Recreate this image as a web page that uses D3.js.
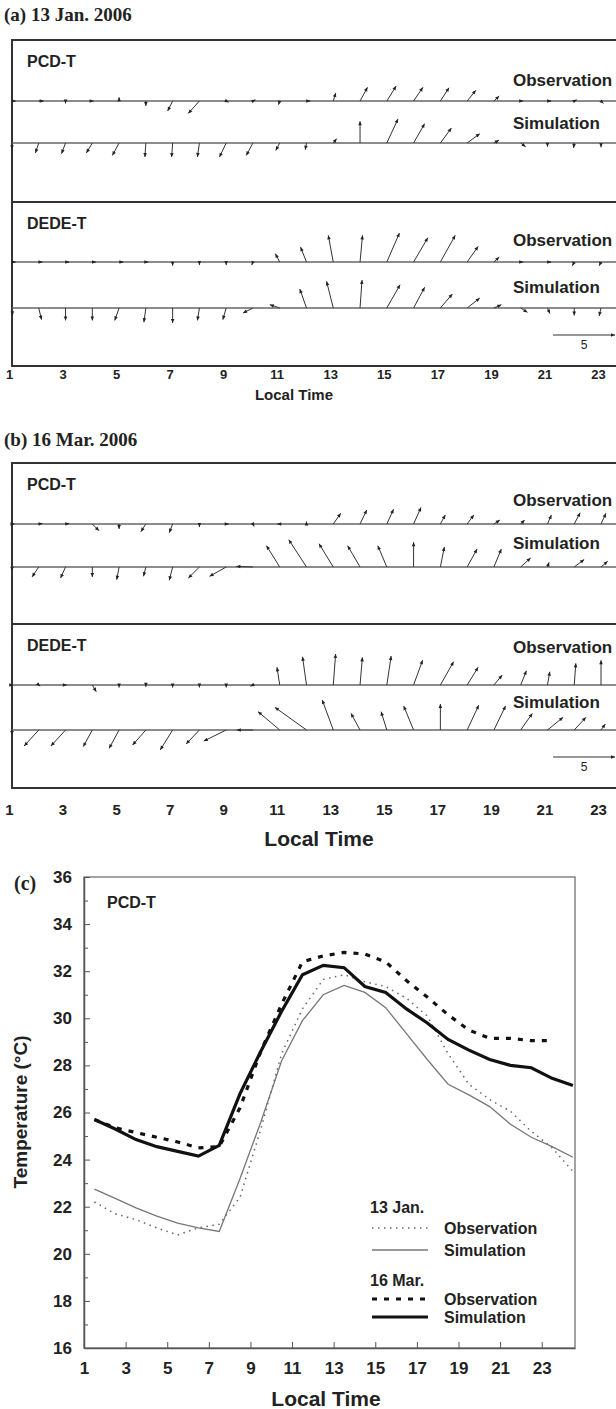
<!DOCTYPE html>
<html>
<meta charset="utf-8">
<head>
  <script src="https://d3js.org/d3.v7.min.js"></script>
  <style>
    body { margin: 0; background: #fff; }
    svg text { font-family: "Liberation Sans", Arial, sans-serif; font-weight: bold; fill: #222; }
    svg text.serif { font-family: "Liberation Serif", "Times New Roman", serif; }
  </style>
</head>
<body>
<svg id="fig" width="616" height="1409"></svg>
<script>
// hours of the wind vectors (the 24th one falls outside the frame)
var hours = [1,2,3,4,5,6,7,8,9,10,11,12,13,14,15,16,17,18,19,20,21,22,23];
var tickHours = [1,3,5,7,9,11,13,15,17,19,21,23];

// 13 Jan. 2006 wind components (m/s)
var janPcdObsU = [0.3,0.4,0,0.1,0,0,-0.4,-0.9,0.2,0.2,-0.1,0.3,0.2,0.6,0.75,0.75,0.7,0.7,0.43,0.2,0.3,0.2,0.2];
var janPcdObsV = [0,0,-0.2,0,0.3,-0.4,-0.8,-1.0,-0.1,0.1,-0.3,0,0.65,1.1,1.2,1.1,1.07,0.86,0.4,0,0,0.1,-0.2];
var janPcdSimU = [0,-0.27,-0.32,-0.48,-0.54,-0.08,-0.08,-0.16,-0.54,-0.54,-0.32,-0.1,0.27,0,0.9,0.89,0.89,1.02,0.4,0.4,0,-0.05,0];
var janPcdSimV = [-0.5,-0.8,-0.86,-0.8,-1.0,-1.13,-1.13,-1.13,-1.13,-1.0,-0.6,-0.54,0.35,1.75,1.94,1.56,1.21,0.75,0.22,-0.3,-0.3,-0.4,-0.35];
var janDedeObsU = [0.3,0.3,0.3,0.3,0.35,0.2,0,0,0,-0.1,-0.35,-0.48,-0.4,0.2,1.02,1.15,1.2,0.89,0.43,0.2,0.3,-0.15,-0.15];
var janDedeObsV = [0,0,0,0,0,0,-0.3,-0.25,-0.25,-0.25,0.67,1.2,2.15,2.15,2.34,1.96,2.15,1.26,0.4,0,0,-0.3,-0.3];
var janDedeSimU = [0.05,0.22,0,0,-0.35,-0.16,0,-0.16,-0.27,-0.8,-0.8,-0.54,-0.54,0.16,1.07,0.89,0.97,1.02,0.6,0.54,0.2,0,-0.15];
var janDedeSimV = [-0.6,-0.94,-1.0,-1.0,-1.0,-1.15,-1.2,-1.0,-0.94,-0.4,0.27,1.53,2.15,2.26,1.88,1.67,1.13,0.8,0.27,-0.35,-0.45,-0.6,-0.65];

// 16 Mar. 2006 wind components (m/s)
var marPcdObsU = [0.2,0.3,0.3,0.54,0,-0.4,-0.27,0,0.2,0.1,-0.2,0,0.6,0.54,0.54,0.6,0.4,0.54,0.48,0.32,0.32,0.48,0.4];
var marPcdObsV = [0,0.05,0.05,-0.54,-0.4,-0.62,-0.7,-0.25,0,-0.2,0,0.2,0.86,1.13,1.18,1.34,0.73,0.73,0.32,0.32,0.73,0.91,0.86];
var marPcdSimU = [0,-0.54,-0.4,0,-0.19,-0.19,-0.27,-0.89,-1.34,-1.34,-1.07,-1.43,-1.15,-1.0,-0.73,0,0.32,0.8,0.6,0.8,0.13,0.8,0.54];
var marPcdSimV = [-0.3,-0.8,-0.89,-0.8,-1.02,-0.75,-1.07,-0.89,-0.75,0.05,1.72,2.2,1.88,1.72,1.72,2.0,1.61,1.45,1.45,0.73,0.38,0.6,0.46];
var marDedeObsU = [0.1,0.1,0.1,0.32,0,0,0,0,0,-0.2,-0.22,-0.32,0.19,0.19,0.35,0.73,1.07,0.89,0.67,0.46,0.19,0.13,0];
var marDedeObsV = [0,-0.1,0,-0.54,-0.2,-0.15,-0.2,-0.2,-0.2,-0.1,1.43,2.28,2.5,2.23,2.34,2.0,1.88,1.43,0.8,1.15,1.07,1.75,2.0];
var marDedeSimU = [0,-1.18,-1.18,-0.73,-0.8,-1.07,-1.0,-1.07,-1.8,-1.3,-1.75,-2.55,-0.89,-0.73,-0.46,-0.8,0,0.94,0.94,0.94,1.26,0.94,0.35];
var marDedeSimV = [-0.4,-1.29,-1.29,-1.34,-1.48,-1.21,-1.61,-1.13,-0.89,0,1.48,1.83,2.42,1.34,1.48,1.94,2.1,2.0,1.94,1.34,1.02,1.02,0.48];

// PCD-T temperature (deg C) at half hours
var hoursC = [1.5,2.5,3.5,4.5,5.5,6.5,7.5,8.5,9.5,10.5,11.5,12.5,13.5,14.5,15.5,16.5,17.5,18.5,19.5,20.5,21.5,22.5,23.5,24.5];
var janObsT = [22.2,21.7,21.45,21.1,20.8,21.1,21.25,22.4,25.3,28.5,30.4,31.65,31.85,31.55,31.35,30.85,30.1,28.5,27.2,26.55,26.05,25.2,24.5,23.5];
var janSimT = [22.75,22.35,21.95,21.6,21.3,21.1,20.95,23.2,25.6,28.2,29.9,31.0,31.4,31.1,30.45,29.35,28.25,27.2,26.75,26.25,25.5,24.95,24.55,24.1];
var marObsT = [25.7,25.35,25.15,24.95,24.75,24.5,24.55,26.2,28.6,30.6,32.4,32.65,32.8,32.73,32.4,31.6,30.9,30.15,29.5,29.15,29.15,29.05,29.05,null];
var marSimT = [25.7,25.3,24.85,24.55,24.35,24.15,24.6,26.8,28.6,30.3,31.85,32.25,32.15,31.35,31.1,30.4,29.8,29.1,28.65,28.25,28.0,27.9,27.45,27.15];
var yTicksC = [16,18,20,22,24,26,28,30,32,34,36];

var svg = d3.select("#fig");

// shared hour scale for the vector panels, and speed -> pixels
var xA = d3.scaleLinear().domain([1, 23]).range([12, 601]);
var speed = d3.scaleLinear().domain([0, 5]).range([0, 62]);

function arrow(g, x0, y0, u, v) {
  var x1 = x0 + speed(u), y1 = y0 - speed(v);
  var dx = x1 - x0, dy = y1 - y0, len = Math.sqrt(dx*dx + dy*dy);
  if (len < 0.01) { dx = 1; dy = 0; len = 1; x1 = x0 + 1; }
  var ux = dx/len, uy = dy/len, hl = 4, hw = 1.8;
  g.append("line").attr("x1", x0).attr("y1", y0).attr("x2", x1).attr("y2", y1)
    .attr("stroke", "#333").attr("stroke-width", 1);
  var bx = x1 - ux*hl, by = y1 - uy*hl;
  g.append("polygon")
    .attr("points", [[x1, y1], [bx - uy*hw, by + ux*hw], [bx + uy*hw, by - ux*hw]].map(p => p.join(",")).join(" "))
    .attr("fill", "#222");
}

function vectorRow(g, y0, u, v, label, labelY) {
  g.append("line").attr("x1", 12).attr("x2", 640).attr("y1", y0).attr("y2", y0)
    .attr("stroke", "#666").attr("stroke-width", 1.5);
  hours.forEach(function(h, i) { arrow(g, xA(h), y0, u[i], v[i]); });
  g.append("text").attr("x", 513).attr("y", labelY).style("font-size", "17px").text(label);
}

function vectorPanel(cfg) {
  var g = svg.append("g");
  g.append("text").attr("class", "serif").attr("x", 4).attr("y", cfg.titleY)
    .style("font-size", "19px").text(cfg.title);
  // frame and divider
  g.append("rect").attr("x", 12).attr("y", cfg.top).attr("width", 640).attr("height", cfg.bottom - cfg.top)
    .attr("fill", "none").attr("stroke", "#333").attr("stroke-width", 2);
  g.append("line").attr("x1", 12).attr("x2", 640).attr("y1", cfg.divider).attr("y2", cfg.divider)
    .attr("stroke", "#333").attr("stroke-width", 2);
  g.append("text").attr("x", 27).attr("y", cfg.pcdY).style("font-size", "16px").text("PCD-T");
  g.append("text").attr("x", 27).attr("y", cfg.dedeY).style("font-size", "16px").text("DEDE-T");
  cfg.rows.forEach(function(r) { vectorRow(g, r.y, r.u, r.v, r.label, r.labelY); });
  // 5 m/s reference vector
  arrow(g, 553, cfg.refY, 5, 0);
  g.append("text").attr("x", 553 + speed(2.5)).attr("y", cfg.refY + 14).attr("text-anchor", "middle")
    .style("font-weight", "normal").style("font-size", "12px").text("5");
  // hour labels
  var axis = d3.axisBottom(xA).tickValues(tickHours).tickSize(0).tickPadding(0);
  var ax = g.append("g").attr("transform", "translate(-3," + cfg.tickY + ")").call(axis);
  ax.select(".domain").remove();
  ax.selectAll("text").style("font-size", cfg.tickSize + "px");
  g.append("text").attr("x", cfg.labelX).attr("y", cfg.labelY).attr("text-anchor", "middle")
    .style("font-size", cfg.labelSize + "px").text("Local Time");
}

vectorPanel({
  title: "(a) 13 Jan. 2006", titleY: 21, top: 40, bottom: 366, divider: 202,
  pcdY: 67, dedeY: 229, refY: 335, tickY: 370, tickSize: 13, labelX: 294, labelY: 400, labelSize: 15,
  rows: [
    {y: 101, u: janPcdObsU, v: janPcdObsV, label: "Observation", labelY: 86},
    {y: 143, u: janPcdSimU, v: janPcdSimV, label: "Simulation", labelY: 129},
    {y: 262, u: janDedeObsU, v: janDedeObsV, label: "Observation", labelY: 246},
    {y: 308, u: janDedeSimU, v: janDedeSimV, label: "Simulation", labelY: 293}
  ]
});

vectorPanel({
  title: "(b) 16 Mar. 2006", titleY: 446, top: 463, bottom: 788, divider: 624,
  pcdY: 490, dedeY: 651, refY: 757, tickY: 804, tickSize: 15, labelX: 319, labelY: 846, labelSize: 21,
  rows: [
    {y: 524, u: marPcdObsU, v: marPcdObsV, label: "Observation", labelY: 506},
    {y: 567, u: marPcdSimU, v: marPcdSimV, label: "Simulation", labelY: 549},
    {y: 685, u: marDedeObsU, v: marDedeObsV, label: "Observation", labelY: 653},
    {y: 730, u: marDedeSimU, v: marDedeSimV, label: "Simulation", labelY: 708}
  ]
});

// (c) temperature panel
var xC = d3.scaleLinear().domain([1, 24.6]).range([84, 575]);
var yC = d3.scaleLinear().domain([16, 36]).range([1348, 877]);
var gc = svg.append("g");

gc.append("text").attr("class", "serif").attr("x", 14).attr("y", 890).style("font-size", "20px").text("(c)");
gc.append("rect").attr("x", 84).attr("y", 877).attr("width", 491).attr("height", 471)
  .attr("fill", "none").attr("stroke", "#666").attr("stroke-width", 1.2);

var yAxis = d3.axisLeft(yC).tickValues(yTicksC).tickSizeInner(-6).tickSizeOuter(0).tickPadding(12);
var ya = gc.append("g").attr("transform", "translate(84,0)").call(yAxis);
var yMinor = gc.append("g").attr("transform", "translate(84,0)")
  .call(d3.axisLeft(yC).tickValues(d3.range(17, 36, 2)).tickSize(-4).tickFormat(""));
yMinor.select(".domain").remove();

var xAxisC = d3.axisBottom(xC).tickValues(tickHours).tickSizeInner(-6).tickSizeOuter(0).tickPadding(14);
var xa = gc.append("g").attr("transform", "translate(0,1348)").call(xAxisC);

[ya, xa].forEach(function(a) {
  a.select(".domain").attr("stroke", "#555").attr("stroke-width", 1.5);
  a.selectAll("line").attr("stroke", "#555");
  a.selectAll("text").style("font-size", "17px").attr("fill", "#222")
    .style("font-family", "'Liberation Sans Narrow', 'Arial Narrow', 'Liberation Sans', sans-serif");
});
yMinor.selectAll("line").attr("stroke", "#555");

gc.append("text").attr("x", 107).attr("y", 908).style("font-size", "16px").text("PCD-T");
gc.append("text").attr("transform", "translate(27,1112) rotate(-90)").attr("text-anchor", "middle")
  .style("font-size", "19px").text("Temperature (\u00B0C)");
gc.append("text").attr("x", 326).attr("y", 1406).attr("text-anchor", "middle")
  .style("font-size", "21px").text("Local Time");

var series = [
  {t: janObsT, stroke: "#666", width: 1.5, dash: "1.5,4.5"},
  {t: janSimT, stroke: "#777", width: 1.3, dash: null},
  {t: marObsT, stroke: "#111", width: 3.2, dash: "5,7"},
  {t: marSimT, stroke: "#111", width: 3.2, dash: null}
];

var line = d3.line().defined(function(d) { return d[1] != null; })
  .x(function(d) { return xC(d[0]); }).y(function(d) { return yC(d[1]); });

series.forEach(function(s) {
  gc.append("path").datum(hoursC.map(function(h, i) { return [h, s.t[i]]; }))
    .attr("d", line).attr("fill", "none").attr("stroke", s.stroke)
    .attr("stroke-width", s.width).attr("stroke-dasharray", s.dash);
});

// legend
var leg = gc.append("g");
leg.append("text").attr("x", 370).attr("y", 1213).style("font-size", "16px").text("13 Jan.");
leg.append("text").attr("x", 370).attr("y", 1286).style("font-size", "16px").text("16 Mar.");
[{y: 1228, s: series[0], label: "Observation"},
 {y: 1250, s: series[1], label: "Simulation"},
 {y: 1299, s: series[2], label: "Observation"},
 {y: 1317, s: series[3], label: "Simulation"}].forEach(function(e) {
  leg.append("line").attr("x1", 372).attr("x2", 428).attr("y1", e.y).attr("y2", e.y)
    .attr("stroke", e.s.stroke).attr("stroke-width", e.s.width).attr("stroke-dasharray", e.s.dash);
  leg.append("text").attr("x", 444).attr("y", e.y + 6).style("font-size", "16px").text(e.label);
});
</script>
</body>
</html>
